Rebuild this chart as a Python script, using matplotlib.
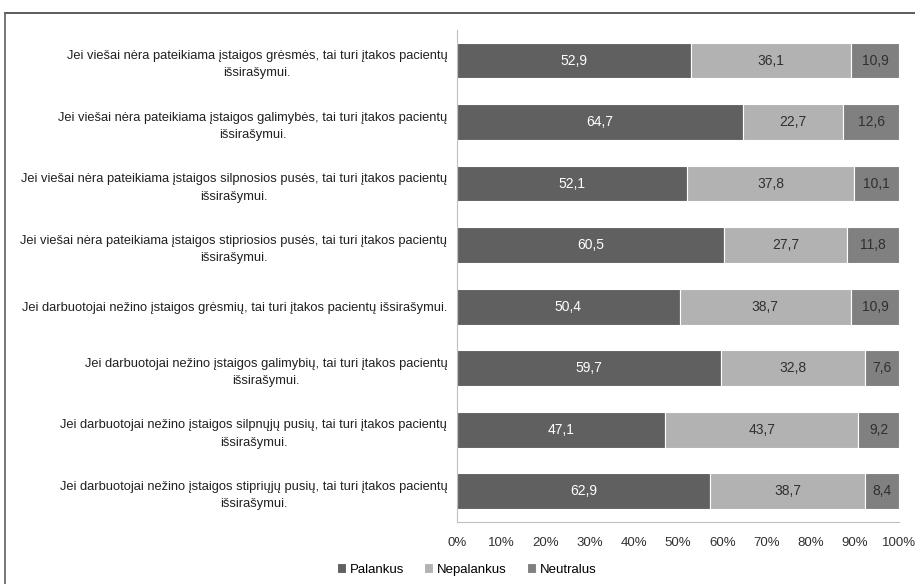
import numpy as np
import matplotlib
matplotlib.use("Agg")
import matplotlib.pyplot as plt
from matplotlib.lines import Line2D

plt.rcParams['font.family'] = ['Liberation Sans', 'DejaVu Sans']

# categories, top to bottom
labels = [
    "Jei viešai nėra pateikiama įstaigos grėsmės, tai turi įtakos pacientų\nišsirašymui.",
    "Jei viešai nėra pateikiama įstaigos galimybės, tai turi įtakos pacientų\nišsirašymui.",
    "Jei viešai nėra pateikiama įstaigos silpnosios pusės, tai turi įtakos pacientų\nišsirašymui.",
    "Jei viešai nėra pateikiama įstaigos stipriosios pusės, tai turi įtakos pacientų\nišsirašymui.",
    "Jei darbuotojai nežino įstaigos grėsmių, tai turi įtakos pacientų išsirašymui.",
    "Jei darbuotojai nežino įstaigos galimybių, tai turi įtakos pacientų\nišsirašymui.",
    "Jei darbuotojai nežino įstaigos silpnųjų pusių, tai turi įtakos pacientų\nišsirašymui.",
    "Jei darbuotojai nežino įstaigos stipriųjų pusių, tai turi įtakos pacientų\nišsirašymui.",
]
palankus = [52.9, 64.7, 52.1, 60.5, 50.4, 59.7, 47.1, 62.9]
nepalankus = [36.1, 22.7, 37.8, 27.7, 38.7, 32.8, 43.7, 38.7]
neutralus = [10.9, 12.6, 10.1, 11.8, 10.9, 7.6, 9.2, 8.4]
series_names = ["Palankus", "Nepalankus", "Neutralus"]
xticks = [0, 10, 20, 30, 40, 50, 60, 70, 80, 90, 100]

colors = ["#606060", "#b2b2b2", "#808080"]
text_colors = ["white", "#303030", "#303030"]

data = np.array([palankus, nepalankus, neutralus])
totals = data.sum(axis=0)
shares = data / totals * 100

fig = plt.figure(figsize=(9.15, 5.84), dpi=100)
ax = fig.add_axes([0.4995, 0.106, 0.483, 0.843])

y = np.arange(len(labels))
left = np.zeros(len(labels))
for i in range(3):
    ax.barh(y, shares[i], left=left, height=0.58, color=colors[i],
            edgecolor="white", linewidth=0.8, label=series_names[i])
    for j in range(len(labels)):
        ax.text(left[j] + shares[i][j] / 2, y[j], f"{data[i][j]:.1f}".replace(".", ","),
                ha="center", va="center", fontsize=10, color=text_colors[i])
    left += shares[i]

ax.set_ylim(len(labels) - 0.5, -0.5)
ax.set_xlim(0, 100)
ax.set_yticks(y)
ax.set_yticklabels(labels, fontsize=9.3, ha="right", multialignment="center",
                   linespacing=1.6, color="#202020")
ax.set_xticks(xticks)
ax.set_xticklabels([f"{v}%" for v in xticks], fontsize=9.5, color="#303030")
ax.tick_params(length=0)
ax.tick_params(axis="x", pad=11)
ax.tick_params(axis="y", pad=7)
for s in ["top", "right"]:
    ax.spines[s].set_visible(False)
for s in ["left", "bottom"]:
    ax.spines[s].set_color("#bfbfbf")

fig.legend(loc="center", bbox_to_anchor=(0.51, 0.025), ncol=3, frameon=False,
           fontsize=9.5, handlelength=0.7, handleheight=0.7, handletextpad=0.3,
           columnspacing=1.5)

# outer frame (top and left edges visible)
fig.add_artist(Line2D([0.006, 1.0], [0.978, 0.978], color="#404040", lw=1.2))
fig.add_artist(Line2D([0.006, 0.006], [0.0, 0.978], color="#606060", lw=1.2))

fig.savefig("out.png", dpi=100)
